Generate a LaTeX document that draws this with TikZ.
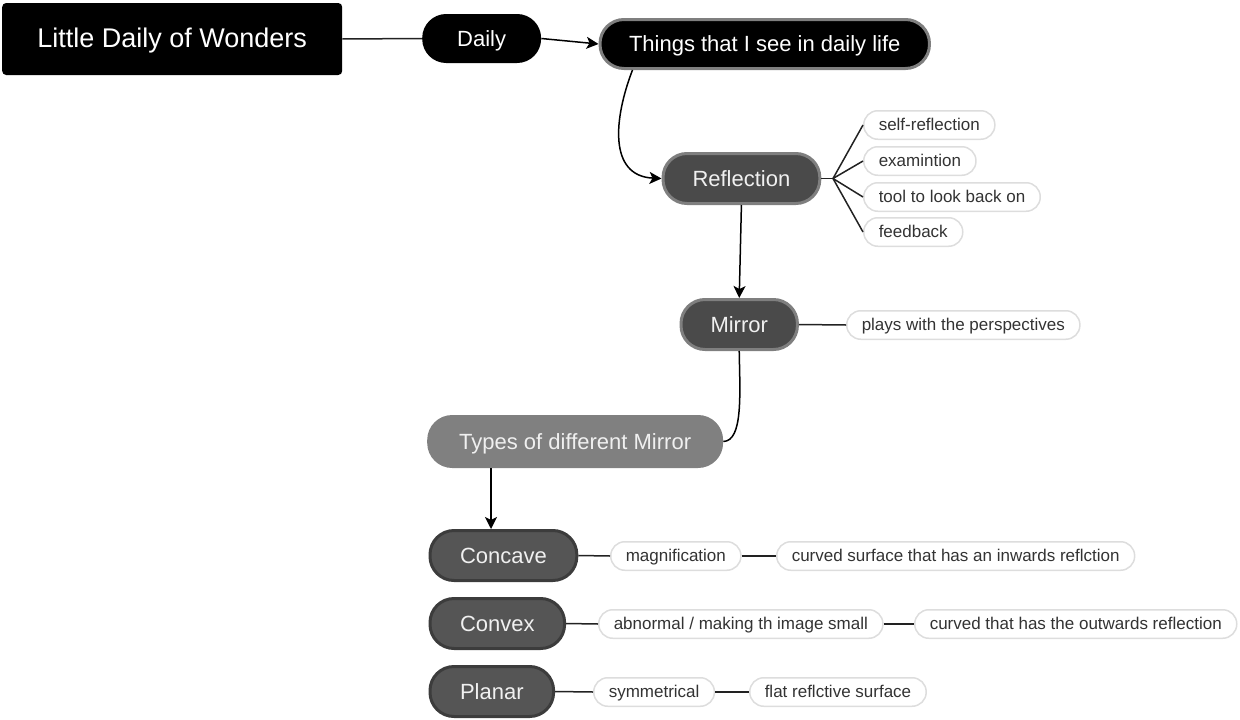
\documentclass[tikz,border=0pt]{standalone}
\usepackage{fontspec}
\setmainfont{Liberation Sans}
\usetikzlibrary{arrows.meta}
\definecolor{midfill}{HTML}{4A4A4A}
\definecolor{midborder}{HTML}{7F7F7F}
\definecolor{lowfill}{HTML}{555555}
\definecolor{lowborder}{HTML}{3C3C3C}
\definecolor{typesfill}{HTML}{808080}
\definecolor{leafborder}{HTML}{DDDDDD}
\definecolor{leaftext}{HTML}{333333}
\definecolor{lighttext}{HTML}{F0F0F0}
\definecolor{linecol}{HTML}{222222}
\tikzset{
  bigfont/.style={font=\fontsize{22}{26}\selectfont, text height=18pt, text depth=3pt},
  titlebox/.style={fill=black, text=white, rounded corners=4pt, minimum width=340pt, minimum height=72pt, inner sep=0pt, font=\fontsize{27}{32}\selectfont, text height=20pt, text depth=3pt},
  dailybox/.style={bigfont, fill=black, text=white, rounded corners=24pt, minimum height=49pt, inner xsep=35pt, inner ysep=0pt},
  thingsbox/.style={bigfont, fill=black, draw=midborder, line width=3pt, text=white, rounded corners=24pt, minimum height=49pt, inner xsep=29pt, inner ysep=0pt},
  midbox/.style={bigfont, fill=midfill, draw=midborder, line width=3pt, text=lighttext, rounded corners=24pt, minimum height=50pt, inner xsep=29.5pt, inner ysep=0pt},
  typesbox/.style={bigfont, fill=typesfill, text=lighttext, rounded corners=25pt, minimum height=53pt, inner xsep=32pt, inner ysep=0pt},
  lowbox/.style={bigfont, fill=lowfill, draw=lowborder, line width=3pt, text=lighttext, rounded corners=24pt, minimum height=50pt, inner xsep=30pt, inner ysep=0pt},
  leaf/.style={font=\fontsize{17}{20}\selectfont, text height=13.5pt, text depth=2pt, fill=white, draw=leafborder, line width=1.5pt, text=leaftext, rounded corners=14pt, minimum height=28.5pt, inner xsep=15pt, inner ysep=0pt, anchor=west},
  link/.style={draw=linecol, line width=1.5pt},
  arr/.style={draw=black, line width=1.5pt, -{Stealth[length=12pt,width=12pt,inset=3pt]}},
}
\begin{document}
\begin{tikzpicture}[x=1pt,y=-1pt]
\useasboundingbox (0,0) rectangle (1240,720);
% main nodes
\node[titlebox, anchor=west] (title) at (2,39) {Little Daily of Wonders};
\node[dailybox, anchor=west] (daily) at (422,38.5) {Daily};
\node[thingsbox, anchor=west] (things) at (598.5,44) {Things that I see in daily life};
\node[midbox, anchor=west] (refl) at (661.5,178.5) {Reflection};
\node[midbox, anchor=west] (mirror) at (679.5,324.5) {Mirror};
\node[typesbox, anchor=west] (types) at (427,441.5) {Types of different Mirror};
\node[lowbox, anchor=west] (concave) at (428.5,555.5) {Concave};
\node[lowbox, anchor=west] (convex) at (428.5,623.5) {Convex};
\node[lowbox, anchor=west] (planar) at (428.5,691.5) {Planar};
% leaves
\node[leaf] (selfr) at (863,125) {self-reflection};
\node[leaf] (exam) at (863,161) {examintion};
\node[leaf] (tool) at (863,197) {tool to look back on};
\node[leaf] (feed) at (863,232) {feedback};
\node[leaf] (plays) at (846,325) {plays with the perspectives};
\node[leaf] (magn) at (610,556) {magnification};
\node[leaf] (cinw) at (776,556) {curved surface that has an inwards reflction};
\node[leaf] (abn) at (598,624) {abnormal / making th image small};
\node[leaf] (cout) at (914,624) {curved that has the outwards reflection};
\node[leaf] (sym) at (593,692) {symmetrical};
\node[leaf] (flat) at (749,692) {flat reflctive surface};
% connectors
\draw[link] (title.east) -- (daily.west);
\draw[arr] (daily.east) -- (things.west);
\draw[arr] ([xshift=34pt]things.south west) .. controls (614,118) and (608,176) .. (refl.west);
\draw[arr] (refl.south) -- (mirror.north);
\coordinate (rb) at (833,178.5);
\draw[link] (refl.east) -- (rb);
\draw[link] (rb) -- (selfr.west);
\draw[link] (rb) -- (exam.west);
\draw[link] (rb) -- (tool.west);
\draw[link] (rb) -- (feed.west);
\draw[link] (mirror.east) -- (plays.west);
\draw[line width=1.5pt] (mirror.south) .. controls (740,395) and (743,441) .. (types.east);
\draw[arr] ([xshift=64pt]types.south west) -- ([xshift=64pt]types.south west |- concave.north);
\draw[link] (concave.east) -- (magn.west);
\draw[link] (magn.east) -- (cinw.west);
\draw[link] (convex.east) -- (abn.west);
\draw[link] (abn.east) -- (cout.west);
\draw[link] (planar.east) -- (sym.west);
\draw[link] (sym.east) -- (flat.west);
\end{tikzpicture}
\end{document}
